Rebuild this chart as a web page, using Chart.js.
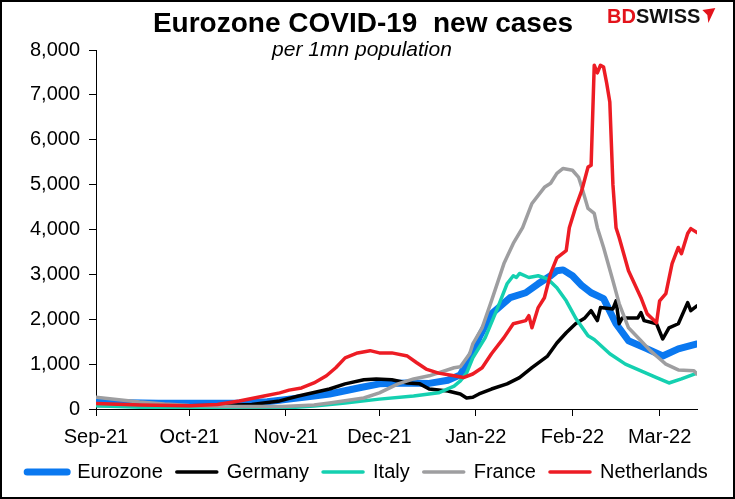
<!DOCTYPE html>
<html>
<head>
<meta charset="utf-8">
<script src="https://cdn.jsdelivr.net/npm/chart.js@4.4.1/dist/chart.umd.min.js"></script>
<style>
  html, body { margin: 0; padding: 0; background: #fff; }
  #wrap { width: 735px; height: 499px; }
</style>
</head>
<body>
<div id="wrap"><canvas id="chart" width="735" height="499"></canvas></div>
<script>
// Days counted from 1 Sep 2021, values are new cases per 1mn population
const monthDays = [0, 30, 61, 91, 122, 153, 181];
const monthLabels = ['Sep-21', 'Oct-21', 'Nov-21', 'Dec-21', 'Jan-22', 'Feb-22', 'Mar-22'];

const ezDays = [0,20,45,55,62,70,75,85,91,100,107,113,117,122,123,127,133,138,142,146,148,150,153,156,159,163,167,171,177,182,187,193];
const ezValues = [150,130,130,160,220,290,335,480,560,580,570,640,760,1400,1590,2120,2480,2590,2790,2970,3080,3100,2970,2750,2590,2460,1900,1520,1340,1180,1340,1450];

const deDays = [0,30,40,50,59,65,75,80,86,90,95,100,104,107,113,117,119,121,123,127,132,136,140,145,148,151,154,157,159,161,162,166,167,168,169,174,175,176,180,182,184,187,190,191,193];
const deValues = [80,70,80,100,180,290,445,560,650,670,650,580,560,445,400,335,245,260,335,445,560,700,920,1180,1470,1700,1900,2030,2190,1970,2260,2230,2410,1900,2030,2030,2150,1970,1900,1560,1810,1900,2370,2190,2300];

const itDays = [0,14,25,40,55,62,70,80,91,102,110,115,117,119,121,125,129,132,134,135,136,139,142,145,148,151,154,158,160,165,170,175,180,184,188,193];
const itValues = [70,40,15,10,15,30,65,135,220,290,360,510,625,800,1140,1590,2260,2790,2970,2930,3020,2930,2970,2900,2700,2410,2030,1630,1550,1230,1000,850,700,580,670,800];

const frDays = [0,14,22,30,45,60,70,75,86,91,97,102,107,115,117,120,121,124,127,131,134,137,140,144,146,148,150,153,155,156,158,160,161,163,166,168,171,175,178,181,183,187,192,193];
const frValues = [260,155,110,80,55,55,90,135,245,360,560,670,740,920,940,1230,1450,1810,2410,3240,3690,4040,4580,4940,5030,5250,5360,5320,5160,4940,4470,4360,4040,3600,2860,2350,1810,1520,1300,1120,1000,870,850,780];

const nlDays = [0,14,30,39,46,54,59,62,66,70,74,77,80,84,88,91,95,100,103,106,110,115,118,121,124,127,131,134,138,139,140,142,144,146,148,151,152,154,156,158,159,160,161,162,163,164,165,166,167,168,171,175,177,180,181,183,185,187,188,190,191,193];
const nlValues = [125,90,70,100,180,290,360,420,470,580,740,920,1140,1250,1300,1250,1250,1180,1030,890,800,740,700,780,920,1230,1590,1900,1970,2080,1810,2260,2480,3020,3370,3530,4040,4490,4870,5390,5430,7660,7490,7660,7620,7260,6840,5000,4040,3820,3080,2480,2120,1920,2410,2570,3240,3600,3460,3910,4020,3930];

const yTicks = [0, 1000, 2000, 3000, 4000, 5000, 6000, 7000, 8000];

const titleText = 'Eurozone COVID-19  new cases';
const subtitleText = 'per 1mn population';

const FONT = '"Liberation Sans", Arial, sans-serif';

function toPoints(days, values) {
    return days.map(function(d, i) { return { x: d, y: values[i] }; });
}

function makeSeries(label, days, values, color, width, order) {
    return {
        label: label,
        data: toPoints(days, values),
        borderColor: color,
        backgroundColor: color,
        borderWidth: width,
        borderCapStyle: 'round',
        borderJoinStyle: 'round',
        pointRadius: 0,
        tension: 0,
        order: order
    };
}

// title, subtitle, logo and frame
const decorations = {
    id: 'decorations',
    afterDraw(chart) {
        const ctx = chart.ctx;
        ctx.save();
        ctx.fillStyle = '#000';
        ctx.textAlign = 'center';
        ctx.textBaseline = 'alphabetic';
        ctx.font = 'bold 28px ' + FONT;
        ctx.fillText(titleText, 363, 32);
        ctx.font = 'italic 21px ' + FONT;
        ctx.fillText(subtitleText, 362, 56);

        ctx.textAlign = 'left';
        ctx.font = 'bold 20px ' + FONT;
        ctx.fillStyle = '#e3131b';
        ctx.fillText('BD', 607, 23);
        const bdWidth = ctx.measureText('BD').width;
        ctx.fillStyle = '#111';
        ctx.fillText('SWISS', 607 + bdWidth, 23);
        const logoEnd = 607 + bdWidth + ctx.measureText('SWISS').width;

        ctx.fillStyle = '#e3131b';
        ctx.beginPath();
        ctx.moveTo(logoEnd + 2, 10);
        ctx.lineTo(logoEnd + 15, 8);
        ctx.lineTo(logoEnd + 8, 23);
        ctx.lineTo(logoEnd + 7, 15);
        ctx.closePath();
        ctx.fill();

        ctx.strokeStyle = '#000';
        ctx.lineWidth = 2;
        ctx.strokeRect(1, 1, 733, 497);
        ctx.restore();
    }
};

const ctx = document.getElementById('chart').getContext('2d');
new Chart(ctx, {
    type: 'line',
    data: {
        datasets: [
            makeSeries('Eurozone', ezDays, ezValues, 'rgb(10, 120, 240)', 7, 5),
            makeSeries('Germany', deDays, deValues, '#000000', 3.5, 4),
            makeSeries('Italy', itDays, itValues, 'rgb(20, 208, 176)', 3.5, 3),
            makeSeries('France', frDays, frValues, 'rgb(158, 158, 160)', 3.5, 2),
            makeSeries('Netherlands', nlDays, nlValues, 'rgb(237, 28, 36)', 3.5, 1)
        ]
    },
    options: {
        responsive: false,
        devicePixelRatio: 1,
        animation: false,
        layout: {
            padding: { top: 50, right: 0, bottom: 7, left: 0 }
        },
        plugins: {
            title: { display: false },
            tooltip: { enabled: false },
            legend: {
                position: 'bottom',
                labels: {
                    color: '#000',
                    font: { family: FONT, size: 20 },
                    boxWidth: 40,
                    boxHeight: 0.1,
                    padding: 14,
                    sort: function(a, b) { return a.datasetIndex - b.datasetIndex; }
                }
            }
        },
        scales: {
            x: {
                type: 'linear',
                min: 0,
                max: 193,
                afterBuildTicks: function(scale) {
                    scale.ticks = monthDays.map(function(d) { return { value: d }; });
                },
                afterFit: function(scale) {
                    scale.height = 39;
                },
                ticks: {
                    autoSkip: false,
                    maxRotation: 0,
                    padding: 9,
                    color: '#000',
                    font: { family: FONT, size: 20 },
                    callback: function(value, index) {
                        return monthLabels[index];
                    }
                },
                grid: {
                    display: true,
                    drawOnChartArea: false,
                    drawTicks: true,
                    tickLength: 7,
                    color: '#000'
                },
                border: { display: true, color: '#000', width: 1 }
            },
            y: {
                min: 0,
                max: 8000,
                afterBuildTicks: function(scale) {
                    scale.ticks = yTicks.map(function(v) { return { value: v }; });
                },
                afterFit: function(scale) {
                    scale.width = 96;
                },
                ticks: {
                    padding: 9,
                    color: '#000',
                    font: { family: FONT, size: 20 },
                    callback: function(value) {
                        return value.toLocaleString('en-US');
                    }
                },
                grid: {
                    display: true,
                    drawOnChartArea: false,
                    drawTicks: true,
                    tickLength: 7,
                    color: '#000'
                },
                border: { display: true, color: '#000', width: 1 }
            },
            // empty right margin so the legend can use the full width
            yRight: {
                position: 'right',
                min: 0,
                max: 1,
                afterFit: function(scale) {
                    scale.width = 38;
                },
                ticks: { display: false },
                grid: { display: false },
                border: { display: false }
            }
        }
    },
    plugins: [decorations]
});
</script>
</body>
</html>
